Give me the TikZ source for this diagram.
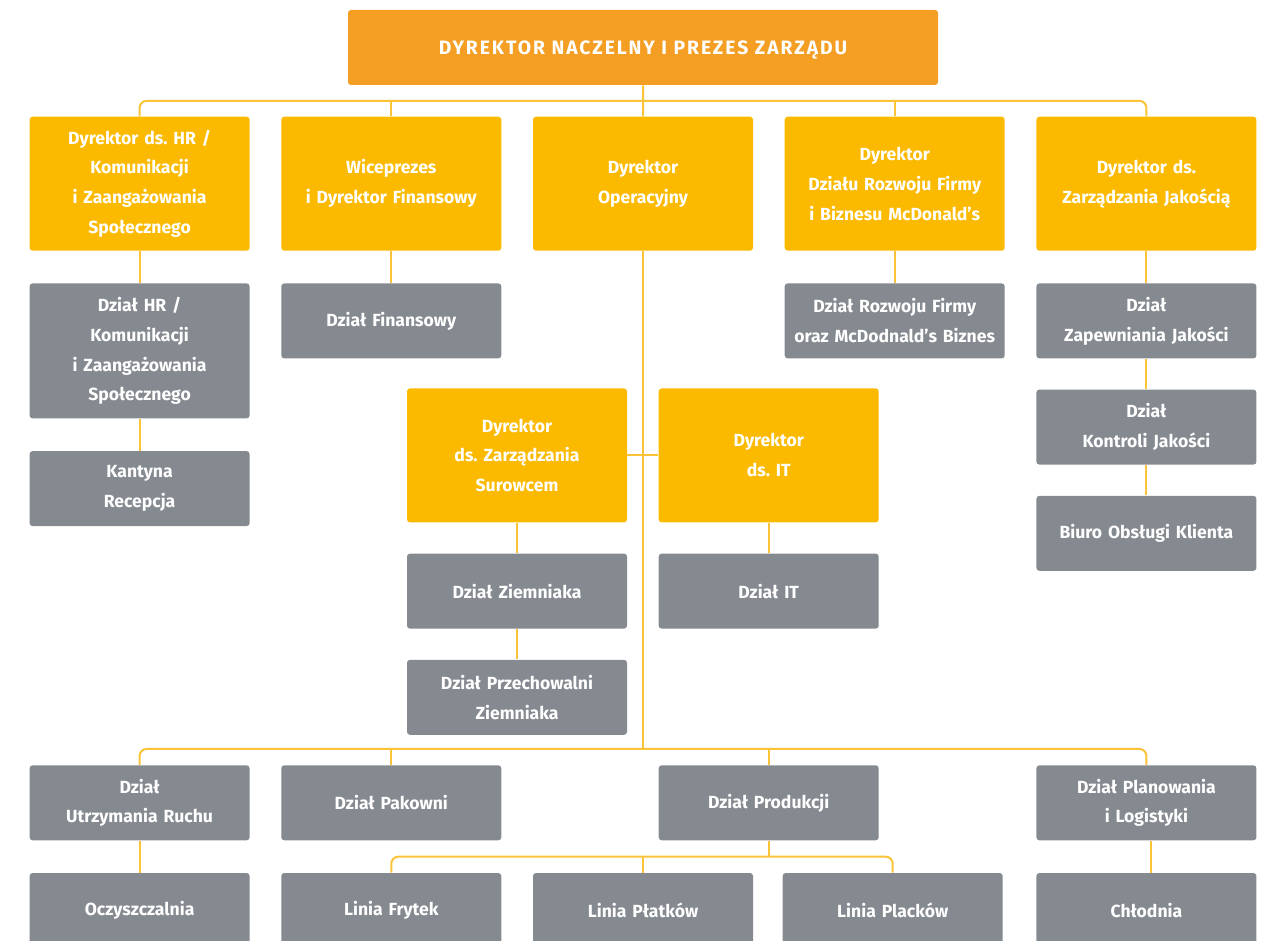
\documentclass[tikz,border=0pt]{standalone}
\usepackage{fontspec}
\setmainfont{Fira Sans}
\usepackage{tikz}
\usepackage{xcolor}
\usetikzlibrary{positioning, calc}

\definecolor{headorange}{HTML}{F49F24}
\definecolor{leadyellow}{HTML}{FBBA00}
\definecolor{unitgrey}{HTML}{848A90}
\definecolor{linkyellow}{HTML}{FAC33A}

\frenchspacing

\begin{document}
\begin{tikzpicture}[
  node distance=0.61cm and 0.62cm,
  every node/.style={font=\fontsize{10}{17}\selectfont\bfseries, text=white,
                     align=center},
  head/.style={rectangle, rounded corners=1.7pt, fill=headorange,
               minimum width=11.8cm, minimum height=1.5cm, text depth=0pt,
               font=\fontsize{11}{17}\selectfont\bfseries},
  lead/.style={rectangle, rounded corners=1.7pt, fill=leadyellow,
               minimum width=4.4cm, minimum height=2.68cm, text width=4.4cm,
               inner sep=0pt},
  unit/.style={rectangle, rounded corners=1.7pt, fill=unitgrey,
               minimum width=4.4cm, minimum height=1.5cm, text width=4.4cm,
               inner sep=0pt},
  tall/.style={minimum height=2.7cm},
  link/.style={draw=linkyellow, line width=1.15pt},
  bus/.style={link, rounded corners=4pt},
]
\useasboundingbox (0,0) rectangle (25.24,-18.8);

% zarząd i dyrektorzy
\node[head] (ceo) at (12.86,-0.95)
  {\addfontfeature{LetterSpace=10}DYREKTOR NACZELNY I PREZES ZARZĄDU};
\node[lead, below=0.62cm of ceo] (ops) {Dyrektor\\Operacyjny};
\node[lead, left=of ops]   (cfo) {Wiceprezes\\i Dyrektor Finansowy};
\node[lead, left=of cfo]   (dhr) {Dyrektor ds. HR /\\Komunikacji\\i Zaangażowania\\Społecznego};
\node[lead, right=of ops]  (dbd) {Dyrektor\\Działu Rozwoju Firmy\\i Biznesu McDonald’s};
\node[lead, right=of dbd]  (dqa) {Dyrektor ds.\\Zarządzania Jakością};

% działy pod dyrektorami
\node[unit, tall, below=0.64cm of dhr] (hr)  {Dział HR /\\Komunikacji\\i Zaangażowania\\Społecznego};
\node[unit, below=0.64cm of hr] (kan) {Kantyna\\Recepcja};
\node[unit, below=0.64cm of cfo] (fin) {Dział Finansowy};
\node[unit, below=0.64cm of dbd] (bd)  {Dział Rozwoju Firmy\\oraz McDodnald’s Biznes};
\node[unit, below=0.64cm of dqa] (qa1) {Dział\\Zapewniania Jakości};
\node[unit, below=of qa1]        (qa2) {Dział\\Kontroli Jakości};
\node[unit, below=of qa2]        (bok) {Biuro Obsługi Klienta};

% pion operacyjny
\node[lead, below=2.74cm of ops, xshift=-2.52cm] (dsur) {Dyrektor\\ds. Zarządzania\\Surowcem};
\node[lead, right=of dsur]  (dit) {Dyrektor\\ds. IT};
\node[unit, below=of dsur]  (ziem) {Dział Ziemniaka};
\node[unit, below=of ziem]  (prz)  {Dział Przechowalni\\Ziemniaka};
\node[unit, below=of dit]   (it)   {Dział IT};

\node[unit, below=2.72cm of it]   (prod) {Dział Produkcji};
\node[unit] (ur)  at (dhr |- prod) {Dział\\Utrzymania Ruchu};
\node[unit] (pak) at (cfo |- prod) {Dział Pakowni};
\node[unit] (pl)  at (dqa |- prod) {Dział Planowania\\i Logistyki};

\node[unit, below=0.64cm of ur]  (ocz)  {Oczyszczalnia};
\node[unit, below=0.64cm of pl]  (chl)  {Chłodnia};
\node[unit] (fry) at (cfo |- ocz) {Linia Frytek};
\node[unit] (pla) at (ops |- ocz) {Linia Płatków};
\node[unit] (plc) at ([xshift=-0.04cm]dbd |- ocz) {Linia Placków};

% szyny
\coordinate (b1) at ($(ceo.south)!0.5!(ops.north)$);
\coordinate (b2) at ($(ops.south |- prod.north) + (0,0.32)$);
\coordinate (b3) at ($(prod.south) + (0,-0.32)$);

\draw[link] (ceo.south) -- (b1);
\draw[bus]  (dhr.north) |- (b1) -| (dqa.north);
\draw[link] (cfo.north) -- (cfo.north |- b1);
\draw[link] (ops.north) -- (b1);
\draw[link] (dbd.north) -- (dbd.north |- b1);

\draw[link] (dhr) -- (hr);
\draw[link] (hr) -- (kan);
\draw[link] (cfo) -- (fin);
\draw[link] (dbd) -- (bd);
\draw[link] (dqa) -- (qa1);
\draw[link] (qa1) -- (qa2);
\draw[link] (qa2) -- (bok);

\draw[link] (ops.south) -- (b2);
\draw[link] (dsur) -- (dit);
\draw[link] (dsur) -- (ziem);
\draw[link] (ziem) -- (prz);
\draw[link] (dit) -- (it);

\draw[bus]  (ur.north) |- (b2) -| (pl.north);
\draw[link] (pak.north) -- (pak.north |- b2);
\draw[link] (prod.north) -- (prod.north |- b2);
\draw[link] (ur) -- (ocz);
\draw[link] ([xshift=0.1cm]pl.south) -- ([xshift=0.1cm]chl.north);

\draw[link] (prod.south) -- (b3);
\draw[bus]  (fry.north) |- (b3) -| (plc.north);
\draw[link] (pla.north) -- (pla.north |- b3);
\end{tikzpicture}
\end{document}
